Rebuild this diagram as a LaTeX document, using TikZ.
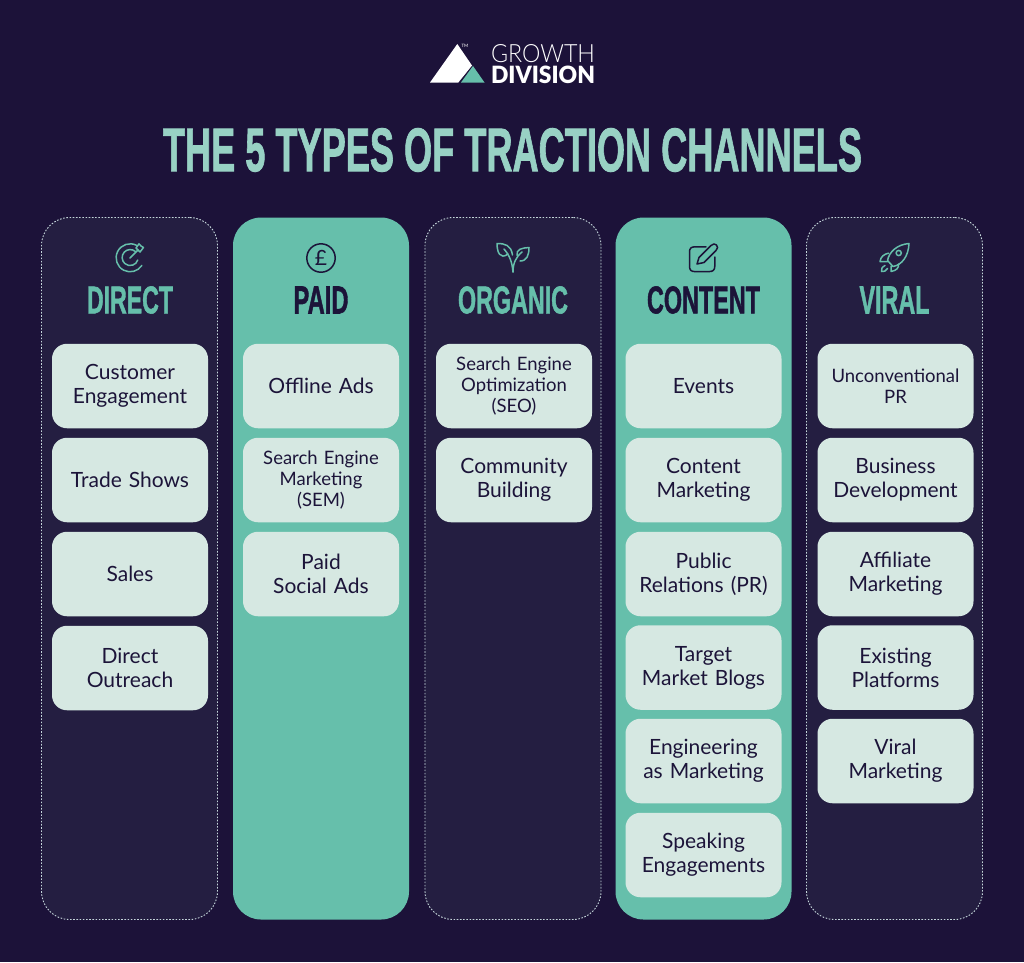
\documentclass[tikz,border=0pt]{standalone}
\usepackage{fontspec}
\usepackage{graphicx}
\setmainfont{Lato}
\newfontfamily\headfont[FakeBold=1.6]{Liberation Sans Bold}
\newfontfamily\logolight{Lato Light}
\newfontfamily\logobold{Lato Black}
\definecolor{bgc}{HTML}{1C1239}
\definecolor{colc}{HTML}{241E41}
\definecolor{tealc}{HTML}{66BFAB}
\definecolor{cardc}{HTML}{D6E8E2}
\definecolor{inkc}{HTML}{1C1439}
\definecolor{dashc}{HTML}{C4D6DA}
\newcommand{\fitcap}[3]{\resizebox{#1pt}{#2pt}{\headfont #3}}
\tikzset{
 x=1pt,y=-1pt,
 colbase/.style={minimum width=176pt,minimum height=702pt,rounded corners=28pt,inner sep=0pt},
 coldark/.style={colbase,fill=colc,draw=dashc,line width=.9pt,dash pattern=on 1.6pt off 1.6pt},
 colteal/.style={colbase,fill=tealc},
 cardbox/.style={fill=cardc,rounded corners=15pt,minimum width=156pt,minimum height=84.5pt,inner sep=0pt,text width=152pt,align=center,text=inkc,font=\fontsize{21}{24}\selectfont},
 smallcard/.style={font=\fontsize{18.5}{21}\selectfont},
 headtxt/.style={inner sep=0pt,anchor=center},
 icon/.style={line width=1.5pt,line cap=round,line join=round,fill=none},
}
\begin{document}
\begin{tikzpicture}
\useasboundingbox (0,0) rectangle (1024,962);
\fill[bgc] (0,0) rectangle (1024,962);
% logo
\fill[white] (457.3,44) -- (472,65.5) -- (458.3,82.5) -- (430,82.5) -- cycle;
\fill[tealc] (473,66) -- (484.5,82.5) -- (461,82.5) -- cycle;
\node[inner sep=0pt,text=white,font=\fontsize{4.5}{5}\selectfont] (tm) at (465,46) {TM};
\node[inner sep=0pt,text=white,anchor=center] (logoa) at (543,53.5) {\resizebox{104pt}{18pt}{\logolight GROWTH}};
\node[inner sep=0pt,text=white,anchor=center] (logob) at (543,75) {\resizebox{104pt}{17.5pt}{\logobold DIVISION}};
% title
\node[headtxt,text=tealc!55!cardc] (title) at (512.5,150) {\fitcap{699}{43}{THE 5 TYPES OF TRACTION CHANNELS}};
% columns
\node[coldark] (c1) at (129.5,568.5) {};
\node[colteal] (c2) at (321,568.5) {};
\node[coldark] (c3) at (513,568.5) {};
\node[colteal] (c4) at (703.5,568.5) {};
\node[coldark] (c5) at (894.5,568.5) {};
% headings
\node[headtxt,text=tealc] (h1) at (130,300) {\fitcap{86}{27}{DIRECT}};
\node[headtxt,text=inkc] (h2) at (321,300) {\fitcap{55}{27}{PAID}};
\node[headtxt,text=tealc] (h3) at (513,300) {\fitcap{110}{27}{ORGANIC}};
\node[headtxt,text=inkc] (h4) at (703.5,300) {\fitcap{113}{27}{CONTENT}};
\node[headtxt,text=tealc] (h5) at (894.5,300) {\fitcap{70}{27}{VIRAL}};
% cards col 1
\node[cardbox] (a1) at (130,386) {Customer\\Engagement};
\node[cardbox] (a2) at (130,480) {Trade Shows};
\node[cardbox] (a3) at (130,574) {Sales};
\node[cardbox] (a4) at (130,668) {Direct\\Outreach};
% col 2
\node[cardbox] (b1) at (321,386) {Offline Ads};
\node[cardbox,smallcard] (b2) at (321,480) {Search Engine\\Marketing\\(SEM)};
\node[cardbox] (b3) at (321,574) {Paid\\Social Ads};
% col 3
\node[cardbox,smallcard] (d1) at (514,386) {Search Engine\\Optimization\\(SEO)};
\node[cardbox] (d2) at (514,480) {Community\\Building};
% col 4
\node[cardbox] (e1) at (703.5,386) {Events};
\node[cardbox] (e2) at (703.5,480) {Content\\Marketing};
\node[cardbox] (e3) at (703.5,574) {Public\\Relations (PR)};
\node[cardbox] (e4) at (703.5,667.5) {Target\\Market Blogs};
\node[cardbox] (e5) at (703.5,761) {Engineering\\as Marketing};
\node[cardbox] (e6) at (703.5,855) {Speaking\\Engagements};
% col 5
\node[cardbox,smallcard] (f1) at (895.5,386) {Unconventional\\PR};
\node[cardbox] (f2) at (895.5,480) {Business\\Development};
\node[cardbox] (f3) at (895.5,574) {Affiliate\\Marketing};
\node[cardbox] (f4) at (895.5,667.5) {Existing\\Platforms};
\node[cardbox] (f5) at (895.5,761) {Viral\\Marketing};
% icon: target
\begin{scope}[icon,draw=tealc]
\draw (136.5,245.3) arc[start angle=-63,end angle=-327,radius=14] ;
\draw (135.5,251.6) arc[start angle=-48,end angle=-342,radius=8];
\draw (130,258) -- (138,250);
\draw (138,250) -- (136,248) -- (139,243.8) -- (141,246) -- (143.5,247.5) -- (140,252) -- cycle;
\end{scope}
% icon: pound
\draw[icon,draw=inkc] (321,258) circle (14.2);
\node[inner sep=0pt,text=inkc,font=\fontsize{21}{21}\selectfont] (pound) at (321,258) {£};
% icon: plant
\begin{scope}[icon,draw=tealc]
\draw (513,272) .. controls (512,262) and (510,256) .. (504,249);
\draw (513,272) .. controls (513,263) and (516,257) .. (522,252);
\draw (508,254) .. controls (500,260) and (497,252) .. (497,243.5) .. controls (505,243.5) and (511,245) .. (512.5,255);
\draw (517,255.5) .. controls (516,249) and (522,248) .. (529,247.5) .. controls (529,255) and (527,261) .. (520,261);
\end{scope}
% icon: pencil
\begin{scope}[icon,draw=inkc]
\draw (706,246.8) -- (695,246.8) .. controls (691,246.8) and (689.5,248.5) .. (689.5,252) -- (689.5,266) .. controls (689.5,270) and (691,271.6) .. (695,271.6) -- (709,271.6) .. controls (713,271.6) and (714.8,270) .. (714.8,266) -- (714.8,257);
\draw (697,264) -- (699,257.5) -- (711,245.5) .. controls (713,243.5) and (715,243.5) .. (716.5,245) .. controls (718,246.5) and (718,248.5) .. (716,250.5) -- (704,262.5) -- cycle;
\end{scope}
% icon: rocket
\begin{scope}[icon,draw=tealc]
\draw (909,243.5) .. controls (897,244.5) and (889,252) .. (887.5,260.5) -- (893,266.5) .. controls (902,265) and (908.5,256) .. (909,243.5) -- cycle;
\draw (898.7,253) circle (2.6);
\draw (888.5,253.2) .. controls (884,254) and (880.5,257) .. (880,261.5) -- (887.5,261.5);
\draw (898.5,264) .. controls (899,268) and (896.5,270.5) .. (891,271.5) -- (891,266);
\draw (885,265.5) .. controls (882,267) and (881,269) .. (881.5,271.5) .. controls (884,272) and (886,271) .. (887.5,268.5);
\end{scope}
\end{tikzpicture}
\end{document}
